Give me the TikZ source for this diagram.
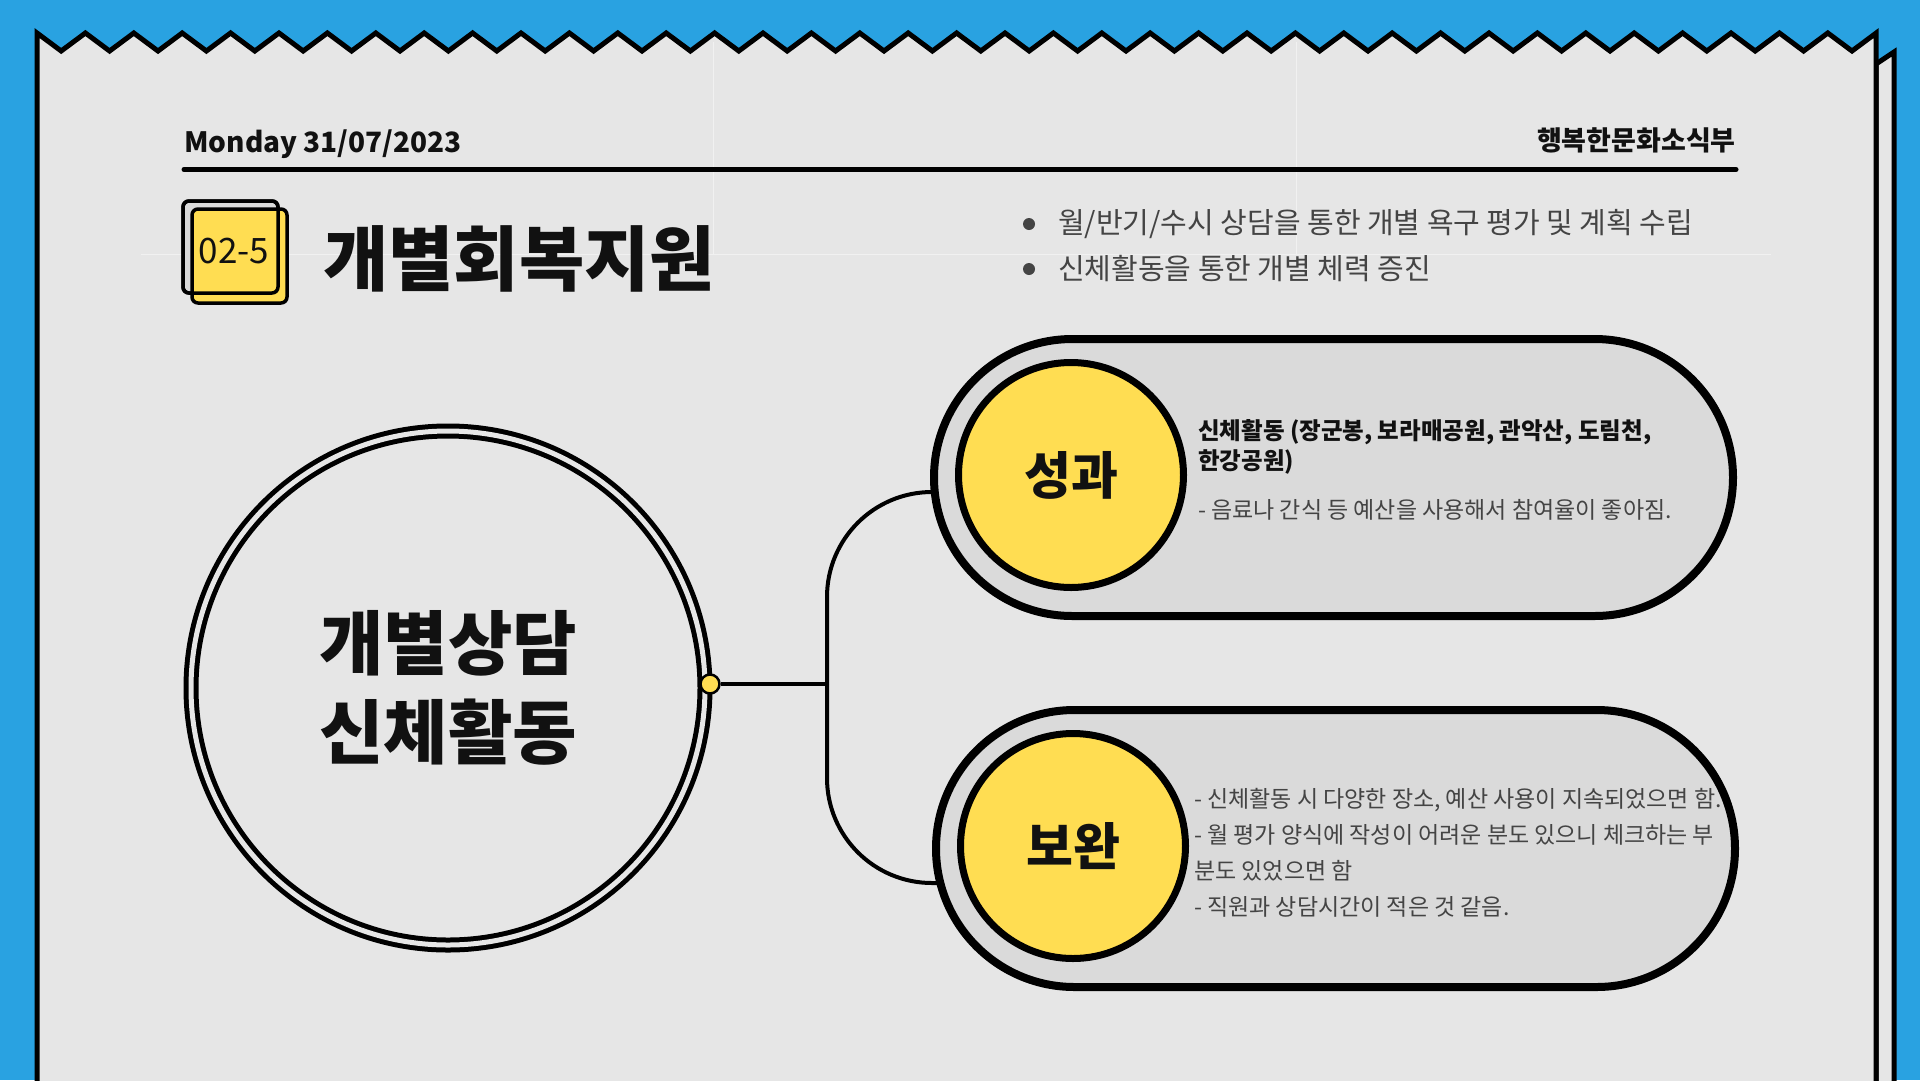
\documentclass[tikz,border=0pt]{standalone}
\usepackage{fontspec}
\setmainfont{Noto Sans CJK KR}
\usepackage{tikz}
\usetikzlibrary{shapes.misc}
\definecolor{sky}{HTML}{29A2E1}
\definecolor{paper}{HTML}{E6E6E6}
\definecolor{pillgray}{HTML}{DADADA}
\definecolor{sun}{HTML}{FFDD52}
\definecolor{ink}{HTML}{111111}
\definecolor{soft}{HTML}{444444}
\tikzset{pill/.style={rounded rectangle, draw=black, line width=8pt, fill=pillgray,
    minimum width=799pt, minimum height=277pt, inner sep=0pt}
}
\tikzset{head/.style={circle, draw=black, line width=7pt, fill=sun, minimum size=225pt,
    inner sep=0pt, text=ink, font=\fontsize{51}{54}\selectfont\bfseries}
}
\tikzset{link/.style={line width=4pt, draw=black}}
\tikzset{note/.style={anchor=west, align=left, text=soft, inner sep=0pt,
    font=\fontsize{23}{36}\selectfont}
}
\tikzset{guide/.style={draw=white!45!paper, line width=1pt}}

\begin{document}
\begin{tikzpicture}[x=1pt,y=-1pt]
                \useasboundingbox (0,0) rectangle (1920,1080);
                \fill[sky] (0,0) rectangle (1920,1080);

                % Sheet behind
                \filldraw[fill=paper, line width=5pt, line join=miter] (1876,64) -- (1894,52) -- (1894,1100) -- (1876,1100) -- cycle;

                % Paper with torn top
                \filldraw[fill=paper, line width=5pt, line join=miter] (37,33)
                    \foreach \i in {1,...,38} { -- ({37+48.4*\i-24.2},51) -- ({37+48.4*\i},33) }
                    -- (1876,1100) -- (37,1100) -- cycle;

                % Guide
                \draw[guide] (713,42) -- (713,254);
                \draw[guide] (1296,42) -- (1296,254);
                \draw[guide] (141,254) -- (1771,254);

                % Header
                \node[anchor=base west, inner sep=0pt, text=ink, font=\fontsize{28}{34}\selectfont\bfseries] (date) at (184,152) {Monday 31/07/2023};
                \node[anchor=base east, inner sep=0pt, text=ink, font=\fontsize{27}{32}\selectfont\bfseries] (team) at (1736,150) {행복한문화소식부};
                \draw[line width=5pt, line cap=round] (184,169.5) -- (1736,169.5);

                % Code badge
                \filldraw[fill=pillgray, line width=3.5pt, rounded corners=6pt] (183,201) rectangle (278,293);
                \filldraw[fill=sun, line width=3.5pt, rounded corners=6pt] (192,209) rectangle (287,303);
                \draw[line width=3.5pt, rounded corners=6pt] (183,201) rectangle (278,293);
                \node[inner sep=0pt, text=ink, font=\fontsize{35}{40}\selectfont] (code) at (234,251) {02-5};

                % Title
                \node[inner sep=0pt, text=ink, font=\fontsize{71}{75}\selectfont\bfseries] (title) at (519,259) {개별회복지원};

                % Aims
                \fill[soft] (1029,224) circle (6pt);
                \fill[soft] (1029,269) circle (6pt);
                \node[anchor=west, inner sep=0pt, text=soft, font=\fontsize{29}{34}\selectfont] (aim1) at (1058,224) {월/반기/수시 상담을 통한 개별 욕구 평가 및 계획 수립};
                \node[anchor=west, inner sep=0pt, text=soft, font=\fontsize{29}{34}\selectfont] (aim2) at (1058,269) {신체활동을 통한 개별 체력 증진};

                % Centre circle
                \node[circle, draw=black, line width=5pt, double=paper, double distance=5pt, minimum size=514pt,
                    inner sep=0pt, align=center, text=ink, font=\fontsize{70}{89}\selectfont\bfseries] (core) at (448,688) {개별상담\\신체활동};
                \node[circle, fill=sun, draw=black, line width=2.5pt, minimum size=19pt, inner sep=0pt] (knot) at (710,684) {};

                % Branch
                \coordinate (fork) at (827,684);
                \coordinate (gainin) at (938,492);
                \coordinate (fixin) at (938,883);
                \draw[link] (knot) -- (fork);
                \draw[link, rounded corners=105pt] (gainin) -| (fork);
                \draw[link, rounded corners=105pt] (fixin) -| (fork);

                % Results
                \node[pill] (gain) at (1333.5,477.5) {};
                \node[head] (gainhead) at (1071,475) {성과};
                \node[note, text=ink, font=\fontsize{23.5}{30}\selectfont\bfseries] (gaintitle) at (1198,447) {신체활동 (장군봉, 보라매공원, 관악산, 도림천,\\한강공원)};
                \node[note] (gainnote) at (1198,510) {- 음료나 간식 등 예산을 사용해서 참여율이 좋아짐.};

                % To improve
                \node[pill] (fix) at (1335.5,848.5) {};
                \node[head] (fixhead) at (1073,846) {보완};
                \node[note] (fixnote) at (1194,853) {- 신체활동 시 다양한 장소, 예산 사용이 지속되었으면 함.\\- 월 평가 양식에 작성이 어려운 분도 있으니 체크하는 부\\분도 있었으면 함\\- 직원과 상담시간이 적은 것 같음.};
\end{tikzpicture}
\end{document}
